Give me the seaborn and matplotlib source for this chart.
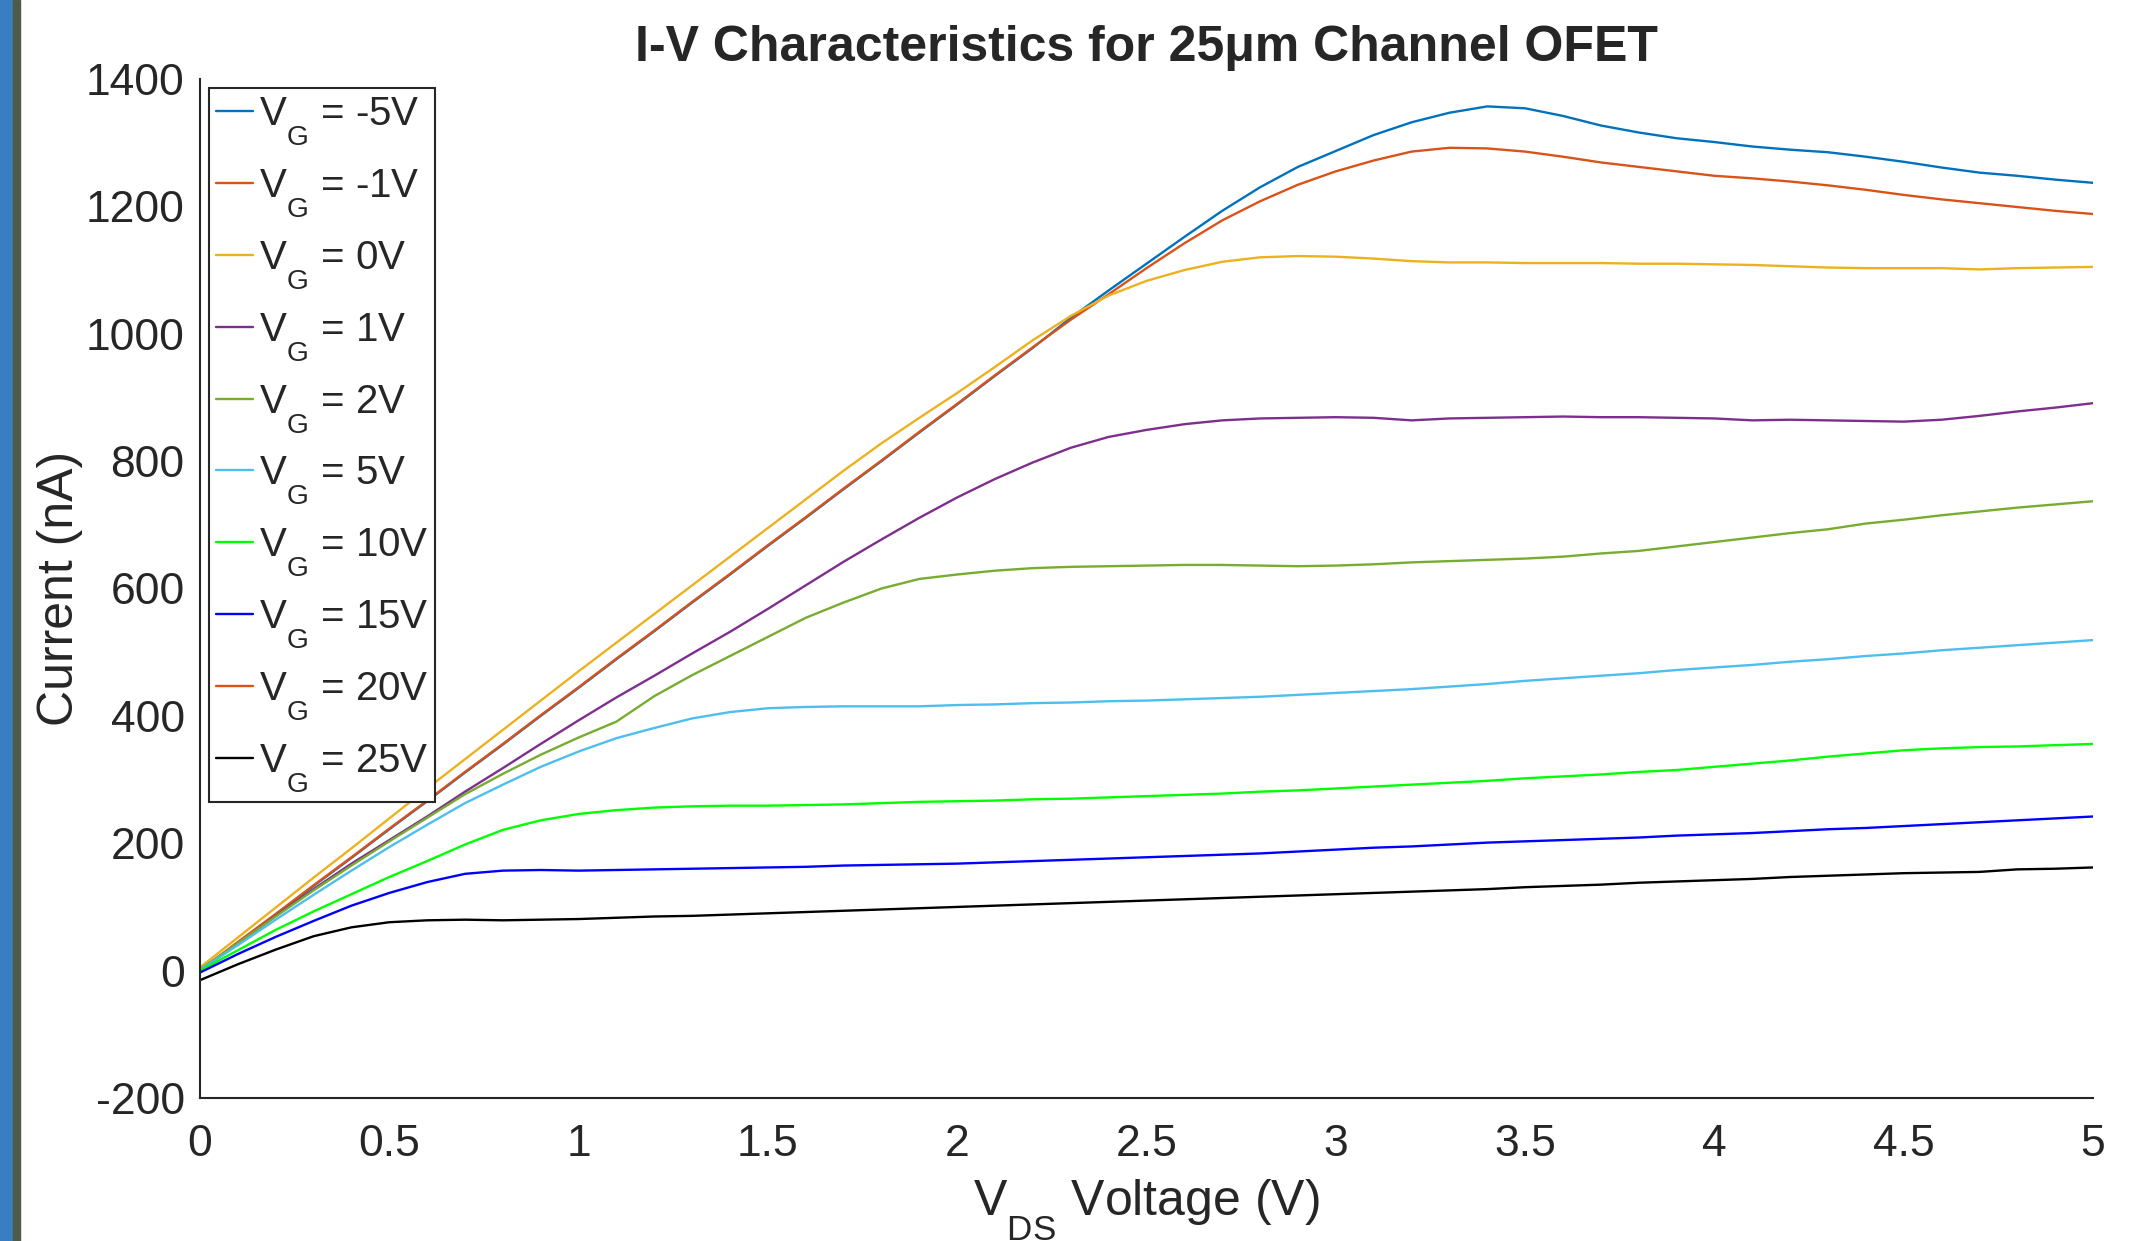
# I-V characteristics of a 25um channel OFET
# family of output curves, one per gate voltage

import matplotlib
matplotlib.use("Agg")

import numpy as np
import pandas as pd
import matplotlib.pyplot as plt
import seaborn as sns
from matplotlib.patches import Rectangle

# Drain-source voltage sweep (V)
vds = [0.0, 0.1, 0.2, 0.3, 0.4, 0.5, 0.6, 0.7, 0.8, 0.9,
       1.0, 1.1, 1.2, 1.3, 1.4, 1.5, 1.6, 1.7, 1.8, 1.9,
       2.0, 2.1, 2.2, 2.3, 2.4, 2.5, 2.6, 2.7, 2.8, 2.9,
       3.0, 3.1, 3.2, 3.3, 3.4, 3.5, 3.6, 3.7, 3.8, 3.9,
       4.0, 4.1, 4.2, 4.3, 4.4, 4.5, 4.6, 4.7, 4.8, 4.9, 5.0]

# Drain current (nA) for each gate voltage
i_vg_m5 = [0, 44, 88, 133, 177, 222, 266, 311, 355, 400,
           444, 489, 533, 578, 622, 667, 711, 756, 800, 845,
           889, 934, 978, 1025, 1068, 1110, 1152, 1193, 1230, 1262,
           1287, 1312, 1332, 1347, 1357, 1354, 1342, 1327, 1316, 1307,
           1301, 1294, 1289, 1285, 1278, 1270, 1261, 1253, 1248, 1242, 1237]

i_vg_m1 = [0, 45, 89, 134, 178, 223, 267, 312, 356, 401,
           445, 490, 534, 579, 623, 668, 712, 757, 801, 846,
           890, 935, 979, 1022, 1062, 1103, 1142, 1178, 1208, 1234,
           1255, 1272, 1286, 1292, 1291, 1286, 1278, 1269, 1262, 1255,
           1248, 1244, 1239, 1233, 1226, 1218, 1211, 1205, 1199, 1193, 1188]

i_vg_0 = [5, 52, 99, 146, 192, 239, 286, 332, 378, 424,
          470, 515, 560, 605, 650, 695, 740, 785, 828, 868,
          907, 948, 990, 1028, 1060, 1083, 1100, 1113, 1120, 1122,
          1121, 1118, 1114, 1112, 1112, 1111, 1111, 1111, 1110, 1110,
          1109, 1108, 1106, 1104, 1103, 1103, 1103, 1101, 1103, 1104, 1105]

i_vg_1 = [0, 42, 86, 128, 168, 205, 242, 281, 318, 356,
          393, 429, 463, 498, 532, 568, 605, 642, 677, 711,
          743, 772, 798, 821, 838, 849, 858, 864, 867, 868,
          869, 868, 864, 867, 868, 869, 870, 869, 869, 868,
          867, 864, 865, 864, 863, 862, 865, 871, 878, 884, 891]

i_vg_2 = [2, 43, 85, 126, 165, 203, 240, 277, 309, 339,
          366, 391, 431, 464, 494, 524, 554, 578, 600, 615,
          622, 628, 632, 634, 635, 636, 637, 637, 636, 635,
          636, 638, 641, 643, 645, 647, 650, 655, 659, 666,
          673, 680, 687, 693, 702, 708, 715, 721, 727, 732, 737]

i_vg_5 = [1, 40, 80, 119, 157, 194, 229, 263, 292, 320,
          344, 365, 381, 396, 406, 412, 414, 415, 415, 415,
          417, 418, 420, 421, 423, 424, 426, 428, 430, 433,
          436, 439, 442, 446, 450, 455, 459, 463, 467, 472,
          476, 480, 485, 489, 494, 498, 503, 507, 511, 515, 519]

i_vg_10 = [0, 32, 64, 93, 120, 147, 172, 198, 221, 236,
           246, 252, 256, 258, 259, 259, 260, 261, 263, 265,
           266, 267, 269, 270, 272, 274, 276, 278, 281, 283,
           286, 289, 292, 295, 298, 302, 305, 308, 312, 315,
           320, 325, 330, 336, 341, 346, 349, 351, 352, 354, 356]

i_vg_15 = [-3, 26, 53, 78, 102, 122, 139, 152, 157, 158,
           157, 158, 159, 160, 161, 162, 163, 165, 166, 167,
           168, 170, 172, 174, 176, 178, 180, 182, 184, 187,
           190, 193, 195, 198, 201, 203, 205, 207, 209, 212,
           214, 216, 219, 222, 224, 227, 230, 233, 236, 239, 242]

# no trace visible for 20 V, only its legend entry
i_vg_20 = []

i_vg_25 = [-15, 10, 33, 54, 68, 76, 79, 80, 79, 80,
           81, 83, 85, 86, 88, 90, 92, 94, 96, 98,
           100, 102, 104, 106, 108, 110, 112, 114, 116, 118,
           120, 122, 124, 126, 128, 131, 133, 135, 138, 140,
           142, 144, 147, 149, 151, 153, 154, 155, 159, 160, 162]

gate_labels = ["-5V", "-1V", "0V", "1V", "2V", "5V", "10V", "15V", "20V", "25V"]
currents = [i_vg_m5, i_vg_m1, i_vg_0, i_vg_1, i_vg_2,
            i_vg_5, i_vg_10, i_vg_15, i_vg_20, i_vg_25]
line_colors = ["#0072BD", "#D95319", "#EDB120", "#7E2F8E", "#77AC30",
               "#4DBEEE", "#00FF00", "#0000FF", "#D95319", "#000000"]

# Style

sns.set_style("white")
plt.rcParams["font.family"] = ["Liberation Sans", "DejaVu Sans"]
plt.rcParams["mathtext.fontset"] = "custom"
plt.rcParams["mathtext.rm"] = "Liberation Sans"
plt.rcParams["mathtext.it"] = "Liberation Sans:italic"
plt.rcParams["axes.unicode_minus"] = False

# drop subscripts lower, closer to the TeX look of the original
try:
    import matplotlib._mathtext as _mt
    _mt.FontConstantsBase.sub1 = 0.95
except Exception as e:
    print("subscript tweak skipped:", e)

text_col = "#262626"

fig = plt.figure(figsize=(21.41, 12.41), dpi=100)
ax = fig.add_axes([200 / 2141, 1 - 1098 / 1241, 1893 / 2141, 1019 / 1241])

# stripe on the left edge of the screenshot
fig.patches.append(Rectangle((0, 0), 12.5 / 2141, 1, transform=fig.transFigure,
                             color="#3a7ec2", zorder=0))
fig.patches.append(Rectangle((12.5 / 2141, 0), 7.5 / 2141, 1, transform=fig.transFigure,
                             color="#4f5a48", zorder=0))

# Curves

for lab, cur, col in zip(gate_labels, currents, line_colors):
    legend_text = "V$_{\\rm G}$ = " + lab
    if len(cur) == 0:
        ax.plot([], [], color=col, lw=1.7, label=legend_text)
        continue
    df = pd.DataFrame({"VDS": vds, "Current": cur})
    sns.lineplot(data=df, x="VDS", y="Current", color=col, lw=1.7,
                 estimator=None, label=legend_text, ax=ax)

# Axes

ax.set_xlim(0, 5)
ax.set_ylim(-200, 1400)
ax.set_xticks([0, 0.5, 1, 1.5, 2, 2.5, 3, 3.5, 4, 4.5, 5])
ax.set_xticklabels(["0", "0.5", "1", "1.5", "2", "2.5", "3", "3.5", "4", "4.5", "5"])
ax.set_yticks([-200, 0, 200, 400, 600, 800, 1000, 1200, 1400])

for side in ["top", "right"]:
    ax.spines[side].set_visible(False)
for side in ["left", "bottom"]:
    ax.spines[side].set_color(text_col)
    ax.spines[side].set_linewidth(1.5)

ax.tick_params(axis="both", direction="in", length=14, width=1.5,
               labelsize=32, colors=text_col)
ax.tick_params(axis="x", pad=19)
ax.tick_params(axis="y", pad=11)

ax.set_title("I-V Characteristics for 25μm Channel OFET",
             fontsize=36, fontweight="bold", pad=13)
ax.set_xlabel("V$_{\\rm DS}$ Voltage (V)", fontsize=36, color=text_col)
ax.set_ylabel("Current (nA)", fontsize=36, color=text_col)
ax.xaxis.set_label_coords(0.5, -0.078)
ax.yaxis.set_label_coords(-0.062, 0.5)

leg = ax.legend(loc="upper left", bbox_to_anchor=(0.0048, 0.991),
                borderaxespad=0, fontsize=29, handlelength=0.9,
                handletextpad=0.15, labelspacing=0.47, borderpad=0.18,
                frameon=True, fancybox=False, framealpha=1,
                edgecolor=text_col)
leg.get_frame().set_linewidth(1.5)

plt.savefig("out.png", dpi=100)
